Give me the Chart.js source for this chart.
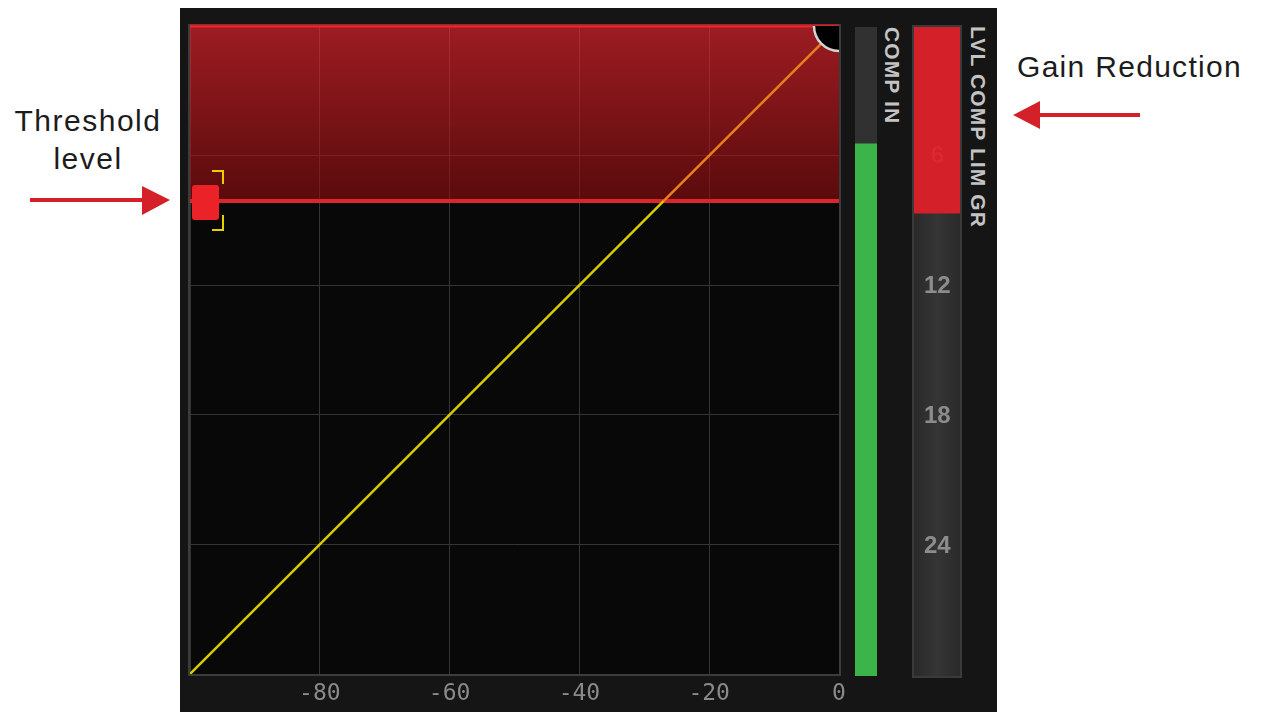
<!DOCTYPE html>
<html>
<head>
<meta charset="utf-8">
<script src="https://cdn.jsdelivr.net/npm/chart.js@4/dist/chart.umd.min.js"></script>
<style>
  html, body { margin: 0; padding: 0; background: #fff; }
  body { width: 1263px; height: 712px; position: relative; overflow: hidden; font-family: "Liberation Sans", Arial, sans-serif; }
  #panel { position: absolute; left: 180px; top: 8px; width: 817px; height: 704px; background: #151515; }
  canvas { position: absolute; }
  #main { left: 180px; top: 8px; }
  #compMeter { left: 855px; top: 27px; }
  #grMeter { left: 912px; top: 25px; }
  .vlabel { position: absolute; writing-mode: vertical-rl; font-weight: bold; font-size: 21px; line-height: 22px; letter-spacing: 1.1px; color: #c4c4c4; white-space: nowrap; }
  .note { position: absolute; font-size: 30px; line-height: 38px; color: #1c1c1c; white-space: nowrap; }
  svg { position: absolute; left: 0; top: 0; }
</style>
</head>
<body>
<div id="panel"></div>
<canvas id="main" width="680" height="704"></canvas>
<canvas id="compMeter" width="22" height="649"></canvas>
<canvas id="grMeter" width="50" height="653"></canvas>
<div class="vlabel" style="left:881px; top:27px;">COMP IN</div>
<div class="vlabel" style="left:967px; top:26px;">LVL COMP LIM GR</div>
<div class="note" style="left:8px; top:102px; width:160px; text-align:center; letter-spacing:1.5px;">Threshold<br>level</div>
<div class="note" style="left:1017px; top:48px; letter-spacing:1.3px;">Gain Reduction</div>
<svg width="1263" height="712">
  <line x1="30" y1="200" x2="146" y2="200" stroke="#d42028" stroke-width="4"/>
  <polygon points="142,186 170,200 142,215" fill="#d42028"/>
  <line x1="1140" y1="115" x2="1036" y2="115" stroke="#d42028" stroke-width="4"/>
  <polygon points="1040,101 1013,115 1040,129" fill="#d42028"/>
</svg>
<script>
// transfer curve (input dB -> output dB), 1:1 with the knee at the threshold
const inputDb = [-100, -27, 0];
const outputDb = [-100, -27, 0];
const threshold = -27;
const xTickValues = [-100, -80, -60, -40, -20, 0];
const inputLevel = -18;      // COMP IN meter
const gainReduction = 8.6;   // GR meter, dB
const grTickValues = [0, 6, 12, 18, 24, 30];

const curve = inputDb.map((x, i) => ({ x: x, y: outputDb[i] }));

function noPad(s) {
  s.paddingLeft = 0; s.paddingRight = 0; s.paddingTop = 0; s.paddingBottom = 0;
}

// threshold handle drawn once as a point image
function makeHandle() {
  const c = document.createElement('canvas');
  c.width = 72; c.height = 66;
  const g = c.getContext('2d');
  g.fillStyle = '#ec2229';
  g.beginPath();
  g.roundRect(38, 17, 27, 35, 3);
  g.fill();
  g.strokeStyle = '#e6d000';
  g.lineWidth = 2;
  g.beginPath();
  g.moveTo(58, 3); g.lineTo(69, 3); g.lineTo(69, 16);
  g.moveTo(69, 47); g.lineTo(69, 62); g.lineTo(58, 62);
  g.stroke();
  return c;
}

const frame = {
  id: 'frame',
  beforeDraw(chart) {
    const a = chart.chartArea, ctx = chart.ctx;
    ctx.save();
    ctx.fillStyle = '#080808';
    ctx.fillRect(a.left, a.top, a.right - a.left, a.bottom - a.top);
    ctx.restore();
  },
  beforeDatasetsDraw(chart) {
    const a = chart.chartArea, ctx = chart.ctx;
    ctx.save();
    ctx.strokeStyle = '#3c3c3c';
    ctx.lineWidth = 2;
    ctx.strokeRect(a.left - 1, a.top - 1, a.right - a.left + 2, a.bottom - a.top + 2);
    ctx.restore();
  }
};

function zoneFill(ctx) {
  const chart = ctx.chart;
  const a = chart.chartArea;
  if (!a) return 'rgba(200,30,36,0.6)';
  const yT = chart.scales.y.getPixelForValue(threshold);
  const grad = chart.ctx.createLinearGradient(0, a.top, 0, yT);
  grad.addColorStop(0, 'rgba(255,42,50,0.6)');
  grad.addColorStop(1, 'rgba(145,12,15,0.6)');
  return grad;
}

new Chart(document.getElementById('main'), {
  type: 'line',
  plugins: [frame],
  data: {
    datasets: [
      {
        label: 'knob',
        data: [{ x: 0, y: 0 }],
        showLine: false,
        pointRadius: 25,
        pointBackgroundColor: '#000',
        pointBorderColor: '#d4d4d4',
        pointBorderWidth: 2.5,
        clip: 0
      },
      {
        label: 'knob dot',
        data: [{ x: -1.1, y: -0.9 }],
        showLine: false,
        pointRadius: 3.5,
        pointBackgroundColor: '#e8e8e8',
        pointBorderWidth: 0,
        clip: 0
      },
      {
        label: 'handle',
        data: [{ x: -100, y: threshold }],
        showLine: false,
        pointStyle: makeHandle(),
        pointRadius: 10,
        clip: false
      },
      {
        label: 'curve',
        data: curve,
        borderWidth: 2.5,
        pointRadius: 0,
        tension: 0,
        segment: {
          borderColor: (c) => c.p0.parsed.y >= threshold ? '#e8801e' : '#d6cc00'
        }
      },
      {
        label: 'threshold',
        data: [{ x: -100, y: threshold }, { x: 0, y: threshold }],
        borderColor: '#dc262c',
        borderWidth: 4,
        pointRadius: 0,
        fill: 'end',
        backgroundColor: zoneFill,
        clip: false
      },
      {
        label: 'ceiling',
        data: [{ x: -100, y: 0 }, { x: 0, y: 0 }],
        borderColor: '#d42028',
        borderWidth: 3,
        pointRadius: 0,
        clip: false
      }
    ]
  },
  options: {
    responsive: false,
    animation: false,
    layout: { autoPadding: false, padding: { left: 10, top: 18, right: 21, bottom: 0 } },
    plugins: { legend: { display: false }, tooltip: { enabled: false } },
    scales: {
      x: {
        type: 'linear',
        min: -100,
        max: 0,
        afterFit: (s) => { s.height = 38; noPad(s); },
        afterBuildTicks: (s) => { s.ticks = xTickValues.map((v) => ({ value: v })); },
        border: { display: false },
        grid: { color: '#343434', lineWidth: 1, drawTicks: false },
        ticks: {
          padding: 6,
          color: '#8a8a8a',
          font: { family: 'DejaVu Sans Mono', size: 23 },
          callback: (v) => (v === -100 ? '' : v)
        }
      },
      y: {
        type: 'linear',
        min: -100,
        max: 0,
        afterFit: (s) => { s.width = 0; noPad(s); },
        afterBuildTicks: (s) => { s.ticks = xTickValues.map((v) => ({ value: v })); },
        border: { display: false },
        grid: { color: '#343434', lineWidth: 1, drawTicks: false },
        ticks: { display: false }
      }
    }
  }
});

// COMP IN meter
new Chart(document.getElementById('compMeter'), {
  type: 'bar',
  data: {
    labels: ['COMP IN'],
    datasets: [
      { data: [[-100, inputLevel]], backgroundColor: '#3bb54a', grouped: false, barPercentage: 1, categoryPercentage: 1 },
      { data: [[-100, 0]], backgroundColor: '#313131', grouped: false, barPercentage: 1, categoryPercentage: 1 }
    ]
  },
  options: {
    responsive: false,
    animation: false,
    plugins: { legend: { display: false }, tooltip: { enabled: false } },
    scales: {
      x: { display: false },
      y: { display: false, min: -100, max: 0 }
    }
  }
});

// GR meter
const grFrame = {
  id: 'grFrame',
  beforeDraw(chart) {
    const ctx = chart.ctx;
    ctx.save();
    ctx.fillStyle = '#3a3a3a';
    ctx.fillRect(0, 0, chart.width, chart.height);
    ctx.restore();
  }
};

function grTrack(ctx) {
  const chart = ctx.chart;
  const a = chart.chartArea;
  if (!a) return '#303030';
  const g = chart.ctx.createLinearGradient(a.left, 0, a.right, 0);
  g.addColorStop(0, '#2a2a2a');
  g.addColorStop(0.5, '#353535');
  g.addColorStop(1, '#2a2a2a');
  return g;
}

new Chart(document.getElementById('grMeter'), {
  type: 'bar',
  plugins: [grFrame],
  data: {
    labels: ['GR'],
    datasets: [
      { data: [[0, gainReduction]], backgroundColor: '#d42028', grouped: false, barPercentage: 1, categoryPercentage: 1 },
      { data: [[0, 30]], backgroundColor: grTrack, grouped: false, barPercentage: 1, categoryPercentage: 1 }
    ]
  },
  options: {
    responsive: false,
    animation: false,
    layout: { padding: { left: 2, right: 2, top: 2, bottom: 2 } },
    plugins: { legend: { display: false }, tooltip: { enabled: false } },
    scales: {
      x: { display: false },
      y: {
        min: 0,
        max: 30,
        reverse: true,
        afterFit: (s) => { s.width = 0; noPad(s); },
        afterBuildTicks: (s) => { s.ticks = grTickValues.map((v) => ({ value: v })); },
        border: { display: false },
        grid: { display: false },
        ticks: {
          z: 1,
          mirror: true,
          crossAlign: 'center',
          padding: 10,
          font: { family: 'Liberation Sans', size: 24, weight: 'bold' },
          color: (c) => (c.tick.value <= gainReduction ? '#dc2830' : '#8c8c8c'),
          callback: (v) => (v === 0 || v === 30 ? '' : v)
        }
      }
    }
  }
});
</script>
</body>
</html>
